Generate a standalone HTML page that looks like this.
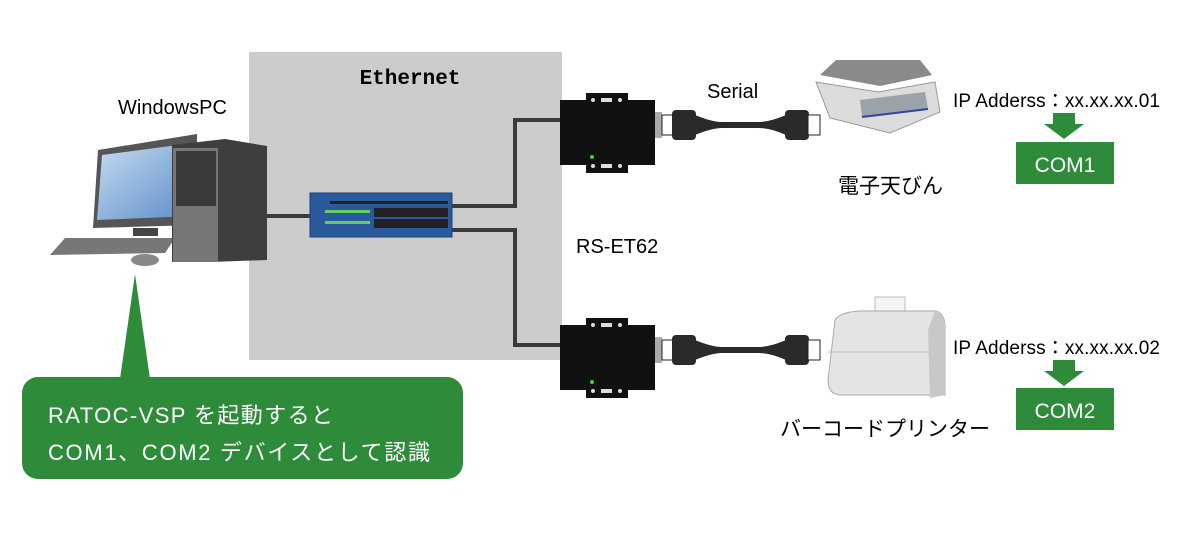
<!DOCTYPE html>
<html><head><meta charset="utf-8"><style>
html,body{margin:0;padding:0;background:#fff;width:1200px;height:534px;overflow:hidden}
text{font-family:"Liberation Sans","Noto Sans CJK JP",sans-serif}
</style></head><body>
<svg width="1200" height="534" viewBox="0 0 1200 534" xmlns="http://www.w3.org/2000/svg">
<defs>
<linearGradient id="scr" x1="0" y1="0" x2="1" y2="1"><stop offset="0" stop-color="#c8dcf0"/><stop offset="1" stop-color="#5a8cc8"/></linearGradient>
</defs>
<rect x="249" y="52" width="313" height="308" fill="#cccccc"/>
<text x="410" y="84" text-anchor="middle" font-weight="bold" font-size="21" style="font-family:'Liberation Mono',monospace">Ethernet</text>
<text x="118" y="114" font-size="20">WindowsPC</text>
<!-- monitor -->
<polygon points="98,150 197,134 197,225 93,228" fill="#555"/>
<polygon points="102,155 193,143 193,216 97,220" fill="url(#scr)"/>
<rect x="133" y="228" width="25" height="8" fill="#444"/>
<polygon points="65,238 175,238 165,253 50,255" fill="#777"/>
<ellipse cx="145" cy="260" rx="14" ry="6" fill="#888"/>
<!-- tower -->
<polygon points="172,145 225,139 267,146 267,260 210,262 172,262" fill="#3e3e3e"/>
<rect x="173" y="148" width="45" height="114" fill="#777"/>
<rect x="176" y="151" width="40" height="55" fill="#3a3a3a"/>
<!-- lines -->
<g stroke="#3a3a3a" stroke-width="4" fill="none">
<line x1="267" y1="216" x2="312" y2="216"/>
<polyline points="450,206 515,206 515,120 562,120"/>
<polyline points="450,230 515,230 515,345 562,345"/>
</g>
<!-- switch -->
<rect x="310" y="193" width="142" height="44" fill="#2a5a9c" stroke="#1b3f75"/>
<rect x="330" y="201" width="118" height="3" fill="#222"/>
<g fill="#222"><rect x="374" y="208" width="74" height="9"/><rect x="374" y="219" width="74" height="9"/></g>
<g fill="#6c6"><rect x="325" y="210" width="45" height="3"/><rect x="325" y="221" width="45" height="3"/></g>
<!-- devices -->
<g id="dev">
<rect x="560" y="100" width="95" height="65" fill="#111"/>
<rect x="586" y="93" width="42" height="80" fill="#111"/>
<g fill="#ddd"><circle cx="593" cy="100" r="2"/><circle cx="620" cy="100" r="2"/><circle cx="593" cy="166" r="2"/><circle cx="620" cy="166" r="2"/><rect x="601" y="98" width="11" height="4"/><rect x="601" y="164" width="11" height="4"/></g>
<rect x="655" y="112" width="7" height="26" fill="#aaa"/>
<circle cx="592" cy="157" r="2" fill="#4c4"/>
<rect x="662" y="115" width="12" height="20" fill="#fff" stroke="#222"/>
<rect x="672" y="110" width="24" height="30" rx="4" fill="#2a2a2a"/>
<path d="M695,115 Q712,122 722,122 L758,122 Q770,122 786,115 L786,135 Q770,128 758,128 L722,128 Q712,128 695,135Z" fill="#2a2a2a"/>
<rect x="785" y="110" width="24" height="30" rx="4" fill="#2a2a2a"/>
<rect x="808" y="115" width="12" height="20" fill="#fff" stroke="#222"/>
</g>
<use href="#dev" transform="translate(0,225)"/>
<!-- scale -->
<polygon points="820,75 836,60 920,60 932,75 880,86" fill="#8a8a8a"/>
<polygon points="816,82 878,92 935,82 940,112 890,133 830,118" fill="#dcdcdc" stroke="#999"/>
<polygon points="860,100 925,92 928,109 862,117" fill="#9aa2aa"/>
<line x1="862" y1="117" x2="928" y2="109" stroke="#33449a" stroke-width="2"/>
<!-- printer -->
<rect x="875" y="297" width="30" height="22" fill="#f4f4f4" stroke="#bbb"/>
<path d="M835,320 Q840,312 860,311 L935,311 Q946,313 945,330 L945,395 L840,395 Q828,394 828,380Z" fill="#e4e4e4" stroke="#aaa"/>
<path d="M935,311 Q946,313 945,330 L945,395 L930,398 L928,330Z" fill="#c8c8c8"/>
<line x1="828" y1="352" x2="930" y2="352" stroke="#bbb"/>
<text x="707" y="98" font-size="20">Serial</text>
<text x="838" y="193" font-size="21">電子天びん</text>
<text x="576" y="253" font-size="20">RS-ET62</text>
<text x="780" y="436" font-size="21">バーコードプリンター</text>
<text x="953" y="107" font-size="19" textLength="207">IP Adderss：xx.xx.xx.01</text>
<text x="953" y="354" font-size="19" textLength="207">IP Adderss：xx.xx.xx.02</text>
<g fill="#2e8b3a">
<polygon points="1053,113 1075,113 1075,124 1084,124 1064,139 1044,124 1053,124"/>
<rect x="1016" y="142" width="98" height="42"/>
<polygon points="1053,360 1075,360 1075,371 1084,371 1064,386 1044,371 1053,371"/>
<rect x="1016" y="388" width="98" height="42"/>
<polygon points="135,274 120,379 150,379"/>
<rect x="22" y="377" width="441" height="102" rx="16"/>
</g>
<text x="1065" y="172" font-size="21" fill="#fff" text-anchor="middle">COM1</text>
<text x="1065" y="418" font-size="21" fill="#fff" text-anchor="middle">COM2</text>
<text x="48" y="423" font-size="22" fill="#fff" textLength="285">RATOC-VSP  を起動すると</text>
<text x="48" y="460" font-size="22" fill="#fff" textLength="382">COM1、COM2 デバイスとして認識</text>
</svg>
</body></html>
